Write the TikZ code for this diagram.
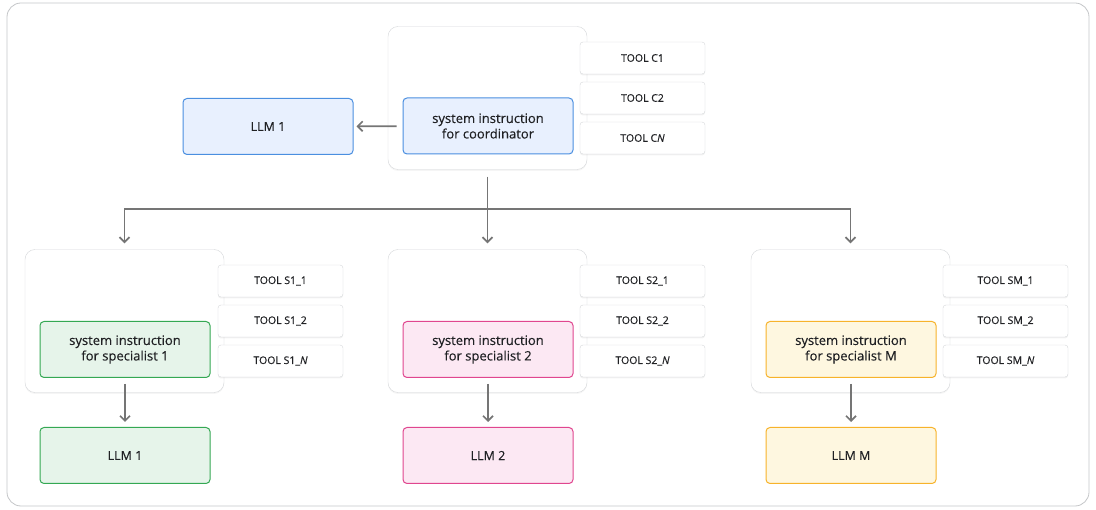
\documentclass[tikz,border=0pt]{standalone}
\usepackage{fontspec}
\setmainfont{Open Sans}[FakeBold=0.35]
\usetikzlibrary{arrows.meta,shadows}
\definecolor{inkgray}{HTML}{202124}
\definecolor{linegray}{HTML}{757575}
\definecolor{rimgray}{HTML}{D5D7DA}
\definecolor{blueline}{HTML}{4A8FE0}
\definecolor{bluefill}{HTML}{E8F0FE}
\definecolor{greenline}{HTML}{34A853}
\definecolor{greenfill}{HTML}{E6F4EA}
\definecolor{pinkline}{HTML}{E0468F}
\definecolor{pinkfill}{HTML}{FCE8F3}
\definecolor{yellowline}{HTML}{F7B32B}
\definecolor{yellowfill}{HTML}{FEF7E0}
\begin{document}
\begin{tikzpicture}[x=1pt, y=-1pt, every node/.style={font=\fontsize{13}{15.5}\selectfont, text=inkgray},
  panel/.style={draw=rimgray, fill=white, rounded corners=10pt, minimum width=199pt, minimum height=143pt,
    drop shadow={opacity=0.08, shadow xshift=0pt, shadow yshift=-1.5pt}},
  toolbox/.style={draw=rimgray, fill=white, rounded corners=3pt, minimum width=125pt, minimum height=32pt,
    font=\fontsize{10.5}{12}\selectfont, drop shadow={opacity=0.1, shadow xshift=0pt, shadow yshift=-1.5pt}},
  sysbox/.style 2 args={draw=#1, fill=#2, line width=1pt, rounded corners=4pt, minimum width=170pt,
    minimum height=56pt, align=center},
  llmbox/.style 2 args={draw=#1, fill=#2, line width=1pt, rounded corners=4pt, minimum width=170pt,
    minimum height=56pt, font=\fontsize{12.5}{14}\selectfont},
  flow/.style={line width=1.7pt, draw=linegray, -{Straight Barb[length=5pt,width=10pt]}}]
\useasboundingbox (0,0) rectangle (1096,510);
% outer frame
\draw[rimgray!80!gray, line width=0.8pt, rounded corners=14pt] (7,3) rectangle (1089,506);

% coordinator
\node[panel] (cpanel) at (487.5,98) {};
\node[toolbox] (toolC1) at (642.5,58) {TOOL C1};
\node[toolbox] (toolC2) at (642.5,98) {TOOL C2};
\node[toolbox] (toolCN) at (642.5,138) {TOOL C\textit{N}};
\node[sysbox={blueline}{bluefill}] (sysC) at (488,126) {system instruction\\for coordinator};
\node[llmbox={blueline}{bluefill}] (llmC) at (268,126.5) {LLM 1};
\draw[flow, shorten <=6pt, shorten >=3pt] (sysC) -- (llmC);

% specialist 1
\node[panel] (panel1) at (124.5,321) {};
\node[toolbox] (toolS11) at (280.5,281) {TOOL S1\_1};
\node[toolbox] (toolS12) at (280.5,321) {TOOL S1\_2};
\node[toolbox] (toolS1N) at (280.5,361) {TOOL S1\_\textit{N}};
\node[sysbox={greenline}{greenfill}] (sys1) at (125,349.5) {system instruction\\for specialist 1};
\node[llmbox={greenline}{greenfill}] (llm1) at (125,455.5) {LLM 1};

% specialist 2
\node[panel] (panel2) at (487.5,321) {};
\node[toolbox] (toolS21) at (642.5,281) {TOOL S2\_1};
\node[toolbox] (toolS22) at (642.5,321) {TOOL S2\_2};
\node[toolbox] (toolS2N) at (642.5,361) {TOOL S2\_\textit{N}};
\node[sysbox={pinkline}{pinkfill}] (sys2) at (488,349.5) {system instruction\\for specialist 2};
\node[llmbox={pinkline}{pinkfill}] (llm2) at (488,455.5) {LLM 2};

% specialist M
\node[panel] (panel3) at (850.5,321) {};
\node[toolbox] (toolSM1) at (1005.5,281) {TOOL SM\_1};
\node[toolbox] (toolSM2) at (1005.5,321) {TOOL SM\_2};
\node[toolbox] (toolSMN) at (1005.5,361) {TOOL SM\_\textit{N}};
\node[sysbox={yellowline}{yellowfill}] (sys3) at (851,349.5) {system instruction\\for specialist M};
\node[llmbox={yellowline}{yellowfill}] (llm3) at (851,455.5) {LLM M};

% coordinator fans out to specialists
\coordinate (split) at (487.5,209);
\draw[flow, shorten <=7pt, shorten >=6pt] (cpanel.south) -- (panel2.north);
\draw[flow, shorten >=6pt] (split) -| (panel1.north);
\draw[flow, shorten >=6pt] (split) -| (panel3.north);

% each specialist feeds its model
\draw[flow, shorten <=6pt, shorten >=5pt] (sys1) -- (llm1);
\draw[flow, shorten <=6pt, shorten >=5pt] (sys2) -- (llm2);
\draw[flow, shorten <=6pt, shorten >=5pt] (sys3) -- (llm3);
\end{tikzpicture}
\end{document}
